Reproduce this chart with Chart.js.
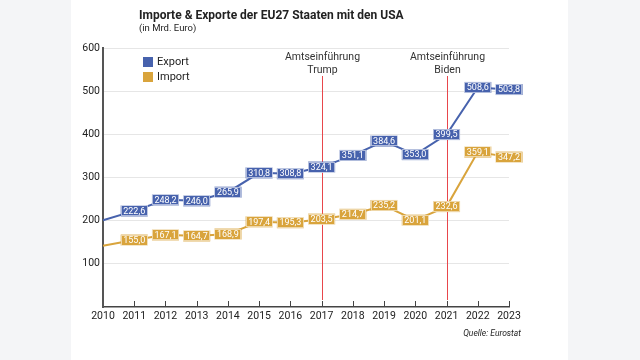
<!DOCTYPE html>
<html lang="de">
<head>
  <meta charset="UTF-8">
  <title>Importe & Exporte der EU27 Staaten mit den USA</title>
  <script src="https://cdn.jsdelivr.net/npm/chart.js"></script>
  <style>
    html, body { margin: 0; padding: 0; background: #f4f5f7; }
    #wrap { width: 640px; height: 360px; position: relative; }
  </style>
</head>
<body>
  <div id="wrap"><canvas id="chart" width="640" height="360"></canvas></div>

  <script>
    const years = ['2010','2011','2012','2013','2014','2015','2016','2017','2018','2019','2020','2021','2022','2023'];
    const exportValues = [201, 222.6, 248.2, 246.0, 265.9, 310.8, 308.8, 324.1, 351.1, 384.6, 353.0, 399.5, 508.6, 503.8];
    const importValues = [142, 155.0, 167.1, 164.7, 168.9, 197.4, 195.3, 203.5, 214.7, 235.2, 201.1, 232.6, 359.1, 347.2];
    const yTicks = [100, 200, 300, 400, 500, 600];
    const markers = [
      { year: '2017', lines: ['Amtseinführung', 'Trump'] },
      { year: '2021', lines: ['Amtseinführung', 'Biden'] }
    ];

    const BLUE = '#4762ad';
    const GOLD = '#d9a43c';
    const FONT = 'Roboto, "Open Sans", sans-serif';

    // background panel, title, legend, source
    const decorPlugin = {
      id: 'decor',
      beforeDraw(chart) {
        const c = chart.ctx;
        c.save();
        c.fillStyle = '#f4f5f7';
        c.fillRect(0, 0, chart.width, chart.height);
        c.fillStyle = '#ffffff';
        c.fillRect(71, 0, 497, chart.height);
        c.restore();
      },
      afterDraw(chart) {
        const c = chart.ctx;
        const x = chart.scales.x, y = chart.scales.y;
        c.save();
        // x tick marks pointing up
        c.strokeStyle = '#444';
        c.lineWidth = 1;
        years.forEach((yr, i) => {
          if (i === 0) return;
          const px = Math.round(x.getPixelForValue(i)) + 0.5;
          c.beginPath();
          c.moveTo(px, y.bottom);
          c.lineTo(px, y.bottom - 6);
          c.stroke();
        });

        c.fillStyle = '#222';
        c.textAlign = 'left';
        c.textBaseline = 'alphabetic';
        c.font = 'bold 12px ' + FONT;
        c.fillText('Importe & Exporte der EU27 Staaten mit den USA', 139, 19);
        c.font = '9.5px ' + FONT;
        c.fillText('(in Mrd. Euro)', 139, 31);

        // legend
        c.font = '11px ' + FONT;
        c.textBaseline = 'middle';
        c.fillStyle = BLUE;
        c.fillRect(143, 57, 10, 10);
        c.fillStyle = GOLD;
        c.fillRect(143, 72, 10, 10);
        c.fillStyle = '#222';
        c.fillText('Export', 157, 62);
        c.fillText('Import', 157, 77);

        c.font = 'italic 8.5px ' + FONT;
        c.textAlign = 'right';
        c.fillText('Quelle: Eurostat', 521, 334);
        c.restore();
      }
    };

    // red vertical lines with captions
    const markerPlugin = {
      id: 'markers',
      beforeDatasetsDraw(chart) {
        const c = chart.ctx;
        const x = chart.scales.x, y = chart.scales.y;
        c.save();
        markers.forEach(m => {
          const px = Math.round(x.getPixelForValue(years.indexOf(m.year))) + 0.5;
          c.strokeStyle = '#e8464b';
          c.lineWidth = 1;
          c.beginPath();
          c.moveTo(px, 76);
          c.lineTo(px, y.bottom - 7);
          c.stroke();
          c.fillStyle = '#333';
          c.font = '10.5px ' + FONT;
          c.textAlign = 'center';
          c.textBaseline = 'middle';
          c.fillText(m.lines[0], px, 57);
          c.fillText(m.lines[1], px, 70);
        });
        c.restore();
      }
    };

    // value boxes on the points
    const labelPlugin = {
      id: 'valueBoxes',
      afterDatasetsDraw(chart) {
        const c = chart.ctx;
        c.save();
        c.font = '9px ' + FONT;
        c.textAlign = 'center';
        c.textBaseline = 'middle';
        chart.data.datasets.forEach((ds, di) => {
          const meta = chart.getDatasetMeta(di);
          meta.data.forEach((pt, i) => {
            if (i === 0) return;
            const txt = ds.data[i].toFixed(1).replace('.', ',');
            const w = c.measureText(txt).width + 5;
            const h = 11;
            c.fillStyle = ds.borderColor;
            c.fillRect(pt.x - w / 2, pt.y - h / 2, w, h);
            c.strokeStyle = 'rgba(255,255,255,0.55)';
            c.lineWidth = 1;
            c.strokeRect(Math.round(pt.x - w / 2) + 0.5, Math.round(pt.y - h / 2) + 0.5, Math.round(w) - 1, h - 1);
            c.fillStyle = '#ffffff';
            c.fillText(txt, pt.x, pt.y + 0.5);
          });
        });
        c.restore();
      }
    };

    const ctx = document.getElementById('chart').getContext('2d');
    new Chart(ctx, {
      type: 'line',
      data: {
        labels: years,
        datasets: [
          { label: 'Export', data: exportValues, borderColor: BLUE, borderWidth: 2, pointRadius: 0, tension: 0 },
          { label: 'Import', data: importValues, borderColor: GOLD, borderWidth: 2, pointRadius: 0, tension: 0 }
        ]
      },
      options: {
        responsive: false,
        animation: false,
        layout: { padding: { left: 0, right: 131, top: 48, bottom: 0 } },
        plugins: { legend: { display: false }, tooltip: { enabled: false } },
        scales: {
          x: {
            offset: false,
            grid: { display: false, drawTicks: false },
            border: { display: true, color: '#444', width: 1.5 },
            ticks: { color: '#222', font: { family: FONT, size: 10.5 }, padding: 3, maxRotation: 0, autoSkip: false },
            afterFit(s) { s.height = 53; }
          },
          y: {
            min: 0,
            max: 600,
            afterBuildTicks(s) { s.ticks = yTicks.map(v => ({ value: v })); },
            grid: { color: '#e6e6e6', lineWidth: 1, drawTicks: false },
            border: { display: true, color: '#555', width: 2 },
            ticks: { color: '#222', font: { family: FONT, size: 10.5 }, padding: 3 },
            afterFit(s) { s.width = 103; }
          }
        }
      },
      plugins: [decorPlugin, markerPlugin, labelPlugin]
    });
  </script>
</body>
</html>
